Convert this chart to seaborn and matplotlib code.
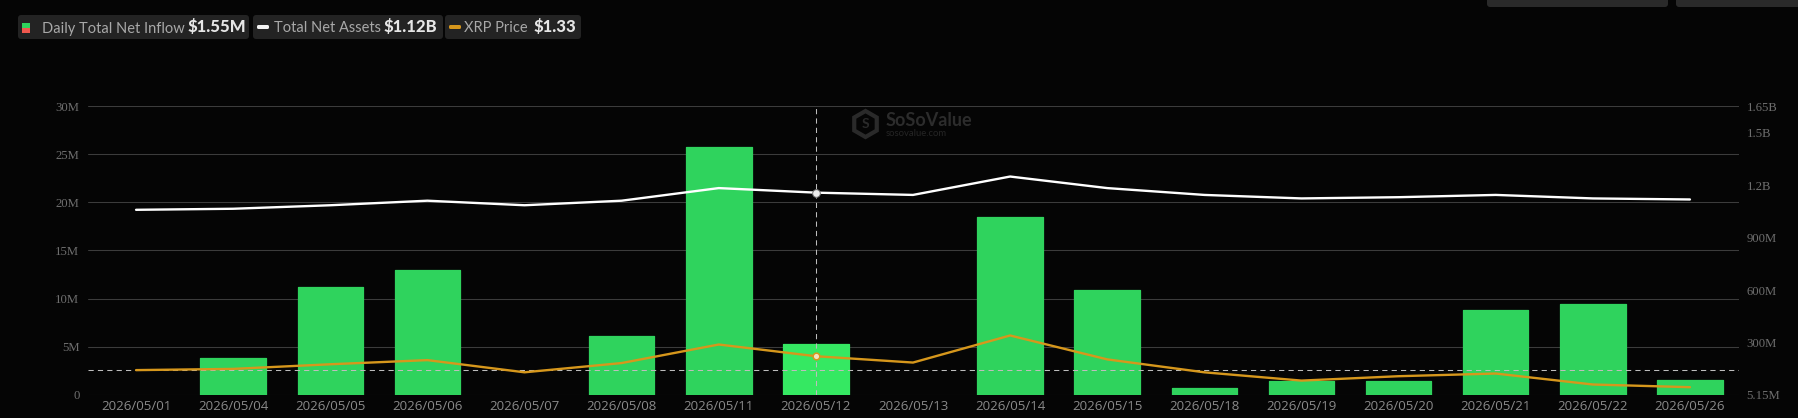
import numpy as np
import pandas as pd
import matplotlib
matplotlib.use("Agg")
import matplotlib.pyplot as plt
from matplotlib.patches import FancyBboxPatch, Rectangle, RegularPolygon
import seaborn as sns

dates = ["2026/05/01", "2026/05/04", "2026/05/05", "2026/05/06", "2026/05/07", "2026/05/08",
         "2026/05/11", "2026/05/12", "2026/05/13", "2026/05/14", "2026/05/15", "2026/05/18",
         "2026/05/19", "2026/05/20", "2026/05/21", "2026/05/22", "2026/05/26"]
net_inflow_m = [np.nan, 3.85, 11.25, 13.0, np.nan, 6.05, 25.75, 5.25, np.nan, 18.45, 10.85, 0.65,
                1.45, 1.4, 8.85, 9.45, 1.5]
net_assets_m = [1060, 1066, 1086, 1112, 1086, 1112, 1184, 1158, 1145, 1250, 1184, 1145,
                1125, 1132, 1145, 1125, 1119]
xrp_price = [1.400, 1.405, 1.424, 1.441, 1.391, 1.429, 1.505, 1.457, 1.431, 1.542, 1.444,
             1.391, 1.357, 1.375, 1.386, 1.341, 1.330]
left_ticks = [0, 5, 10, 15, 20, 25, 30]
left_labels = ["0", "5M", "10M", "15M", "20M", "25M", "30M"]
right_ticks = [5.15, 300, 600, 900, 1200, 1500, 1650]
right_labels = ["5.15M", "300M", "600M", "900M", "1.2B", "1.5B", "1.65B"]
hover_date = "2026/05/12"
hover_level = 2.53

BG = "#050505"
GREEN = "#2FD35D"
GREEN_HI = "#35E862"
ORANGE = "#D6971C"
GRID = "#3C3C3C"
W, H = 1798, 418

sns.set_theme(style="dark", rc={"axes.facecolor": BG, "figure.facecolor": BG})
plt.rcParams["font.family"] = ["Open Sans", "DejaVu Sans"]

fig = plt.figure(figsize=(W / 100, H / 100), dpi=100, facecolor=BG)
ax = fig.add_axes([87.5 / W, 1 - 394.5 / H, (1738.5 - 87.5) / W, 288 / H])
ax.set_facecolor(BG)

df = pd.DataFrame({"date": dates, "inflow": net_inflow_m, "assets": net_assets_m,
                   "price": xrp_price, "pos": np.arange(len(dates))})
palette = {d: (GREEN_HI if d == hover_date else GREEN) for d in dates}
sns.barplot(data=df, x="date", y="inflow", hue="date", palette=palette, dodge=False,
            legend=False, width=0.675, saturation=1, ax=ax, zorder=2)
for p in ax.patches:
    p.set_edgecolor(p.get_facecolor())
    p.set_linewidth(0.9)
    p.set_joinstyle("round")

ax.set_xlim(-0.5, len(dates) - 0.5)
ax.set_ylim(0, 30)
ax.set_xlabel("")
ax.set_ylabel("")
ax.set_axisbelow(True)
ax.yaxis.grid(True, color=GRID, lw=0.75)
ax.xaxis.grid(False)
ax.set_yticks(left_ticks, left_labels, family=["Liberation Serif"], fontsize=9.2, color="#6E6E6E")
ax.tick_params(axis="y", length=0, pad=5.8)
ax.tick_params(axis="x", length=0, pad=4, labelsize=9.5, labelcolor="#8A8A8A")
sns.despine(ax=ax, left=True, right=True, top=True, bottom=True)

hover_pos = dates.index(hover_date)
ax.axhline(hover_level, color="#BDBDBD", lw=0.75, ls=(0, (5, 4)), zorder=3)
ax.axvline(hover_pos, color="#BDBDBD", lw=0.75, ls=(0, (5, 4)), zorder=3)

ax2 = ax.twinx()
ax2.patch.set_visible(False)
sns.lineplot(data=df, x="pos", y="assets", color="#FFFFFF", lw=1.7, ax=ax2, errorbar=None, zorder=4)
ax2.plot([hover_pos], [net_assets_m[hover_pos]], "o", ms=5.5, mfc="#EDEDED", mec="#777777", mew=0.7, zorder=5)
ax2.set_ylim(5.15, 1650)
ax2.set_xlabel("")
ax2.set_ylabel("")
ax2.grid(False)
ax2.set_yticks(right_ticks, right_labels, family=["Liberation Serif"], fontsize=9.2, color="#6E6E6E")
ax2.tick_params(axis="y", length=0, pad=5.8)
sns.despine(ax=ax2, left=True, right=True, top=True, bottom=True)

ax3 = ax.twinx()
ax3.patch.set_visible(False)
sns.lineplot(data=df, x="pos", y="price", color=ORANGE, lw=1.7, ax=ax3, errorbar=None, zorder=4)
ax3.plot([hover_pos], [xrp_price[hover_pos]], "o", ms=4.8, mfc="#F3E3C0", mec=ORANGE, mew=1.1, zorder=5)
ax3.set_ylim(1.30, 2.481)
ax3.set_xlabel("")
ax3.set_ylabel("")
ax3.grid(False)
ax3.set_yticks([])
sns.despine(ax=ax3, left=True, right=True, top=True, bottom=True)
ax.set_xlim(-0.5, len(dates) - 0.5)


def fx(x):
    return x / W


def fy(y):
    return 1 - y / H


# transform: pixel coordinates measured from the top-left corner of the image
pixel_tf = matplotlib.transforms.Affine2D().scale(1 / W, -1 / H).translate(0, 1) + fig.transFigure


def chip(x0, x1, y0, y1, color="#232323"):
    fig.add_artist(FancyBboxPatch((x0 + 3, y0 + 3), x1 - x0 - 6, y1 - y0 - 6,
                                  boxstyle="round,pad=3,rounding_size=3",
                                  transform=pixel_tf, fc=color, ec="none", clip_on=False))


chip(18, 249, 15, 39)
chip(253, 443, 15, 39)
chip(445, 581, 15, 39)
chip(1487, 1668, -12, 7, "#2A2A2A")
chip(1676, 1830, -12, 7, "#2A2A2A")

fig.add_artist(Rectangle((22, 22.5), 8, 5, transform=pixel_tf, fc="#2FD35D", ec="none"))
fig.add_artist(Rectangle((22, 27.5), 8, 5, transform=pixel_tf, fc="#F0584E", ec="none"))
fig.add_artist(FancyBboxPatch((258, 26), 10, 2, boxstyle="round,pad=1,rounding_size=1.5",
                              transform=pixel_tf, fc="#F2F2F2", ec="none"))
fig.add_artist(FancyBboxPatch((450, 26), 10, 2, boxstyle="round,pad=1,rounding_size=1.5",
                              transform=pixel_tf, fc=ORANGE, ec="none"))

for label, x, value, vx in [("Daily Total Net Inflow", 42, "$1.55M", 187),
                            ("Total Net Assets", 274, "$1.12B", 383),
                            ("XRP Price", 464, "$1.33", 533.5)]:
    fig.text(fx(x), fy(32.5), label, family=["Lato"], fontsize=10.5, color="#A8A8A8",
             ha="left", va="baseline")
    fig.text(fx(vx), fy(32.5), value, family=["Lato"], fontsize=12, fontweight="black",
             color="#E6E6E6", ha="left", va="baseline")

# watermark
fig.add_artist(RegularPolygon((865.5, 124), 6, radius=13, transform=pixel_tf, fc="none",
                              ec="#2A2A2A", lw=3))
fig.text(fx(865.5), fy(124), "S", family=["Lato"], fontsize=10, fontweight="bold",
         color="#2A2A2A", ha="center", va="center")
fig.text(fx(886), fy(120), "SoSoValue", family=["Lato"], fontsize=13, fontweight="bold",
         color="#2C2C2C", ha="left", va="center")
fig.text(fx(886), fy(133), "sosovalue.com", family=["Lato"], fontsize=6.8,
         color="#252525", ha="left", va="center")

fig.savefig("out.png", dpi=100, facecolor=BG)
